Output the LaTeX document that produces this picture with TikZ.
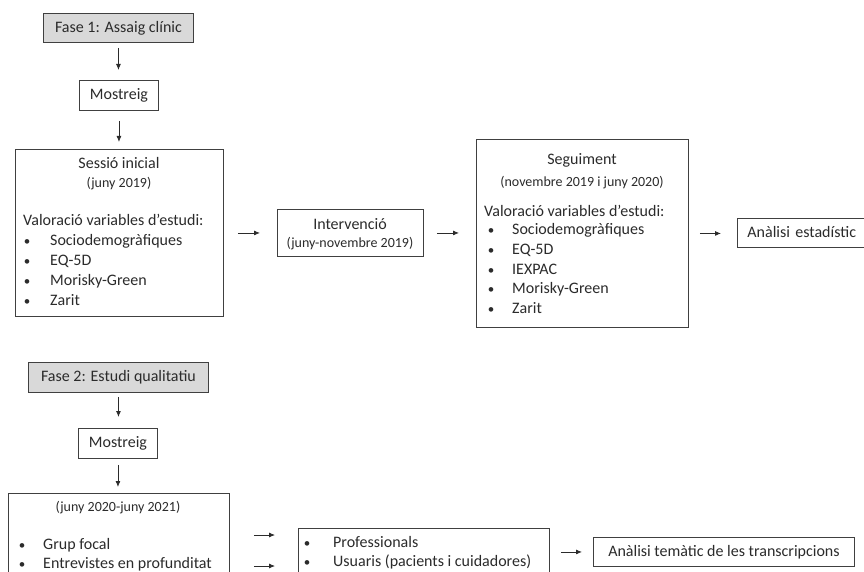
\documentclass[tikz,border=0pt]{standalone}
\usepackage{fontspec}
\setmainfont{Carlito}
\usetikzlibrary{arrows.meta}
\definecolor{ink}{HTML}{2B2B2B}
\definecolor{frame}{HTML}{404040}
\definecolor{phase}{HTML}{D9D9D9}
\tikzset{
  box/.style={draw=frame, line width=0.9pt, fill=white, inner sep=0pt, text=ink,
              font=\fontsize{16}{19.5}\selectfont},
  phasebox/.style={box, fill=phase},
  main/.style={inner sep=0pt, text=ink, font=\fontsize{16}{19.5}\selectfont},
  small/.style={inner sep=0pt, text=ink, font=\fontsize{14}{17}\selectfont},
  bul/.style={inner sep=0pt, text=ink, font=\fontsize{13}{16}\selectfont, anchor=base},
  item/.style={main, anchor=base west},
  arr/.style={draw=ink, line width=0.8pt, -{Latex[length=6pt,width=5pt]}},
}
\begin{document}
\begin{tikzpicture}[x=1pt,y=-1pt]
\useasboundingbox (0,0) rectangle (864,572);
\clip (0,0) rectangle (864,572);

% ---------- Fase 1 ----------
\node[phasebox, anchor=north west, minimum width=150pt, minimum height=29pt] (fase1) at (43,13) {Fase 1: Assaig clínic};
\node[box, anchor=north west, minimum width=79pt, minimum height=30pt] (most1) at (79,80) {Mostreig};

\node[box, anchor=north west, minimum width=208pt, minimum height=167pt] (sess) at (15,149) {};
\node[main, anchor=base] (sesst) at (119,169) {Sessió inicial};
\node[small, anchor=base] (sessd) at (119,187.5) {(juny 2019)};
\node[item] (sessv) at (23,225) {Valoració variables d’estudi:};
\foreach \y/\t [count=\i] in {245/Sociodemogràfiques, 265/EQ-5D, 285/Morisky-Green, 305/Zarit} {
  \node[bul] (sb\i) at (27,\y) {\textbullet};
  \node[item] (si\i) at (50,\y) {\t};
}

\node[box, anchor=north west, minimum width=146pt, minimum height=47pt] (interv) at (277,209) {};
\node[main, anchor=base] (intt) at (350,229) {Intervenció};
\node[small, anchor=base] (intd) at (350,247.5) {(juny-novembre 2019)};

\node[box, anchor=north west, minimum width=212pt, minimum height=188pt] (seg) at (476,139) {};
\node[main, anchor=base] (segt) at (582,165) {Seguiment};
\node[small, anchor=base] (segd) at (582,186.5) {(novembre 2019 i juny 2020)};
\node[item] (segv) at (484,216) {Valoració variables d’estudi:};
\foreach \y/\t [count=\i] in {234/Sociodemogràfiques, 254/EQ-5D, 274/IEXPAC, 293/Morisky-Green, 313/Zarit} {
  \node[bul] (gb\i) at (491,\y) {\textbullet};
  \node[item] (gi\i) at (512,\y) {\t};
}

% box runs past the right edge of the page
\node[box, anchor=west, minimum width=140pt, minimum height=29pt, inner xsep=10pt,
      text width=120pt, align=left] (anal1) at (737,232.5) {Anàlisi estadístic};

\draw[arr, shorten <=5pt, shorten >=10pt] (fase1.south) -- (fase1.south |- most1.north);
\draw[arr, shorten <=10pt, shorten >=7pt] (most1.south) -- (most1.south |- sess.north);
\draw[arr, shorten <=14pt, shorten >=17pt] (sess.east) -- (sess.east -| interv.west);
\draw[arr, shorten <=13pt, shorten >=17pt] (interv.east) -- (interv.east -| seg.west);
\draw[arr, shorten <=11pt, shorten >=16pt] (seg.east) -- (seg.east -| anal1.west);

% ---------- Fase 2 ----------
\node[phasebox, anchor=north west, minimum width=180pt, minimum height=30pt] (fase2) at (28,362) {Fase 2: Estudi qualitatiu};
\node[box, anchor=north west, minimum width=79pt, minimum height=30pt] (most2) at (78,428) {Mostreig};

\node[box, anchor=north west, minimum width=221pt, minimum height=100pt] (qual) at (8,493) {};
\node[small, anchor=base] (quald) at (118,511) {(juny 2020-juny 2021)};
\node[bul] (qb1) at (22,549) {\textbullet};
\node[item] (qi1) at (43,549) {Grup focal};
\node[bul] (qb2) at (22,568) {\textbullet};
\node[item] (qi2) at (43,568) {Entrevistes en profunditat};

\node[box, anchor=north west, minimum width=251pt, minimum height=60pt] (prof) at (298,528) {};
\node[bul] (pb1) at (307,547) {\textbullet};
\node[item] (pi1) at (333,547) {Professionals};
\node[bul] (pb2) at (307,566) {\textbullet};
\node[item] (pi2) at (333,566) {Usuaris (pacients i cuidadores)};

\node[box, anchor=north west, minimum width=261pt, minimum height=29pt] (tem) at (593,537) {Anàlisi temàtic de les transcripcions};

\coordinate (r1) at (0,535);
\coordinate (r2) at (0,566);
\draw[arr, shorten <=4pt, shorten >=11pt] (fase2.south) -- (fase2.south |- most2.north);
\draw[arr, shorten <=6pt, shorten >=6pt] (most2.south) -- (most2.south |- qual.north);
\draw[arr, shorten <=24pt, shorten >=23pt] (qual.east |- r1) -- (prof.west |- r1);
\draw[arr, shorten <=24pt, shorten >=23pt] (qual.east |- r2) -- (prof.west |- r2);
\draw[arr, shorten <=11pt, shorten >=11pt] (prof.east |- tem.west) -- (tem.west);
\end{tikzpicture}
\end{document}
